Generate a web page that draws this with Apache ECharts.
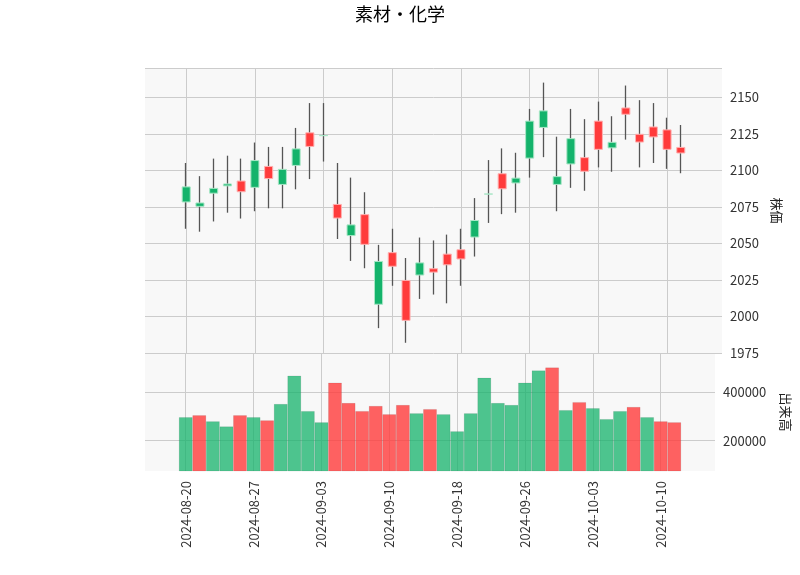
<!DOCTYPE html>
<html><head><meta charset="utf-8">
<script src="https://cdn.jsdelivr.net/npm/echarts@6/dist/echarts.min.js"></script>
<style>html,body{margin:0;padding:0;background:#fff}#c{width:800px;height:575px}</style>
</head><body><div id="c"></div>
<script>
const dates=["2024-08-20","2024-08-21","2024-08-22","2024-08-23","2024-08-26","2024-08-27","2024-08-28","2024-08-29","2024-08-30","2024-09-02","2024-09-03","2024-09-04","2024-09-05","2024-09-06","2024-09-09","2024-09-10","2024-09-11","2024-09-12","2024-09-13","2024-09-17","2024-09-18","2024-09-19","2024-09-20","2024-09-24","2024-09-25","2024-09-26","2024-09-27","2024-09-30","2024-10-01","2024-10-02","2024-10-03","2024-10-04","2024-10-07","2024-10-08","2024-10-09","2024-10-10","2024-10-11"];
const open =[2078,2075,2084,2089,2093,2088,2103,2090,2103,2126,2123.5,2077,2055,2070,2008,2044,2025,2028,2033,2043,2046,2054,2083.5,2098,2091,2108,2129,2090,2104,2109,2134,2115,2143,2125,2130,2128,2116];
const close=[2089,2078,2088,2091,2085,2107,2094,2101,2115,2116,2124,2067,2063,2049,2038,2034,1997,2037,2030,2035,2039,2066,2084,2087,2095,2134,2141,2096,2122,2099,2114,2119.5,2138,2119,2122.5,2114,2111.5];
const high =[2105,2096,2108,2110,2108,2119,2116,2116,2129,2146,2146,2105,2095,2085,2049,2060,2040,2054,2052,2056,2060,2081,2107,2115,2112,2142,2160,2123,2142,2135,2147,2137,2158,2148,2146,2136,2131];
const low  =[2060,2058,2065,2071,2067,2072,2074,2074,2087,2094,2106,2053,2038,2033,1992,2021,1982,2012,2015,2009,2021,2041,2064,2070,2071,2095,2109,2072,2088,2086,2102,2099,2121,2102,2105,2101,2098];
const volume=[296000,304000,279000,258000,304000,296000,283000,350000,467000,321000,275000,438000,354000,321000,342000,308000,346000,312000,329000,308000,238000,312000,458000,354000,346000,438000,488000,500000,325000,358000,333000,288000,321000,338000,296000,279000,275000];
const PAD=3;
const cats=[...Array(PAD).fill(''),...dates,...Array(PAD).fill(' ')].map((d,i)=>d.trim()===''?'_'+i:d);
const padArr=a=>[...Array(PAD).fill('-'),...a,...Array(PAD).fill('-')];
const UP='#14b36b', DOWN='#ff3b3b';
const kdata=padArr(dates.map((d,i)=>[open[i],close[i],low[i],high[i]]));
const baseData=padArr(dates.map((d,i)=>Math.min(open[i],close[i])));
const bodyData=padArr(dates.map((d,i)=>({value:Math.max(Math.abs(close[i]-open[i]),0.5),
  itemStyle:{color:close[i]>=open[i]?UP:DOWN,borderColor:close[i]>=open[i]?'#a8e6c6':'#ffb0b0'}})));
const vdata=padArr(volume.map((v,i)=>({value:v,itemStyle:{color:(i===0||close[i]>=close[i-1])?'rgba(20,179,107,0.75)':'rgba(255,59,59,0.8)'}})));
const isTick=i=>i>=PAD&&i<PAD+dates.length&&(i-PAD)%5===0;
const xcommon={type:'category',data:cats,boundaryGap:false,axisLine:{show:false},axisTick:{show:false},
  splitLine:{show:true,interval:(i)=>isTick(i),lineStyle:{color:'#cccccc'}}};
const FONT='Noto Sans CJK JP';
const chart=echarts.init(document.getElementById('c'));
chart.setOption({
  animation:false,
  textStyle:{fontFamily:FONT},
  title:{text:'素材・化学',left:'center',top:0,textStyle:{fontSize:18,fontWeight:'normal',color:'#000',fontFamily:FONT}},
  grid:[{left:145,right:78,top:68,height:285,backgroundColor:'#f8f8f8',show:true,borderWidth:0},
        {left:145,right:78,top:353,height:118,backgroundColor:'#f8f8f8',show:true,borderWidth:0}],
  xAxis:[Object.assign({gridIndex:0,axisLabel:{show:false}},xcommon),
         Object.assign({gridIndex:1,axisLabel:{rotate:90,interval:(i)=>isTick(i),fontSize:13,color:'#333',margin:10,fontFamily:FONT}},xcommon)],
  yAxis:[{gridIndex:0,position:'right',min:1975,max:2170,interval:25,name:'株価',nameLocation:'middle',nameGap:48,nameRotate:-90,
          nameTextStyle:{fontSize:13,color:'#222',fontFamily:FONT},axisLine:{show:false},axisTick:{show:false},
          axisLabel:{fontSize:13,color:'#333',margin:8,showMaxLabel:false,formatter:v=>String(v),fontFamily:FONT},splitLine:{lineStyle:{color:'#cccccc'}}},
         {gridIndex:1,position:'right',min:75000,max:560000,name:'出来高',nameLocation:'middle',nameGap:64,nameRotate:-90,
          nameTextStyle:{fontSize:13,color:'#222',fontFamily:FONT},axisLine:{show:false},
          axisTick:{show:false,customValues:[200000,400000]},
          axisLabel:{fontSize:13,color:'#333',margin:8,customValues:[200000,400000],formatter:v=>String(v),fontFamily:FONT},
          splitLine:{show:true,lineStyle:{color:'#cccccc'}}}],
  series:[{type:'candlestick',xAxisIndex:0,yAxisIndex:0,data:kdata,barWidth:1,z:2,
           itemStyle:{color:'#555',color0:'#555',borderColor:'#555',borderColor0:'#555',borderWidth:1.3}},
          {type:'bar',xAxisIndex:0,yAxisIndex:0,stack:'b',data:baseData,barWidth:'66%',z:3,
           itemStyle:{color:'rgba(0,0,0,0)'},silent:true},
          {type:'bar',xAxisIndex:0,yAxisIndex:0,stack:'b',data:bodyData,barWidth:'66%',z:3,
           itemStyle:{borderWidth:1}},
          {type:'bar',xAxisIndex:1,yAxisIndex:1,data:vdata,barWidth:'100%',
           itemStyle:{borderColor:'rgba(0,0,0,0.15)',borderWidth:0.5}}]
});
</script></body></html>
